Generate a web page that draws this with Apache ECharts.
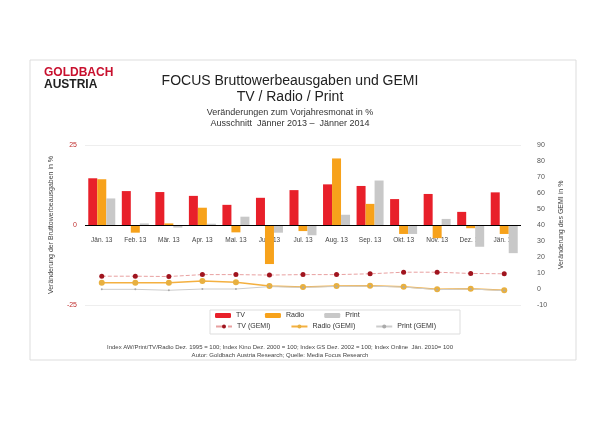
<!DOCTYPE html>
<html><head><meta charset="utf-8">
<script src="https://cdn.jsdelivr.net/npm/echarts@6/dist/echarts.min.js"></script>
<style>body{margin:0;background:#fff}#c{width:616px;height:434px}</style>
</head><body><div id="c"></div>
<script>
var months = ['Jän. 13','Feb. 13','Mär. 13','Apr. 13','Mai. 13','Jun. 13','Jul. 13','Aug. 13','Sep. 13','Okt. 13','Nov. 13','Dez. 13','Jän. 14'];
var tv = [14.6,10.6,10.3,9.1,6.3,8.5,10.9,12.7,12.2,8.1,9.7,4.1,10.2];
var radio = [14.3,-2.4,0.5,5.4,-2.3,-12.2,-1.9,20.8,6.6,-2.8,-4.1,-1.0,-2.8];
var print = [8.3,0.5,-0.8,0.4,2.6,-2.4,-3.2,3.2,13.9,-2.8,1.9,-6.8,-8.8];
var tvGemi = [8,8,7.8,9,9,8.7,9,9,9.5,10.5,10.5,9.7,9.5];
var radioGemi = [3.9,3.9,3.9,5,4.2,1.8,1.2,1.8,2,1.4,-0.2,0.2,-0.8];
var printGemi = [-0.2,-0.2,-0.8,0,0,1.5,1,1.6,1.8,1.2,-0.4,0,-1];

var chart = echarts.init(document.getElementById('c'));
var f = 'Liberation Sans, Arial, sans-serif';
var legText = {fontSize:7, color:'#333', width:58, overflow:'none'};
chart.setOption({
  animation: false,
  textStyle: {fontFamily: f},
  graphic: [
    {type:'rect', shape:{x:30,y:60,width:546,height:300}, style:{fill:'none', stroke:'#ddd', lineWidth:1}},
    {type:'rect', shape:{x:210,y:310,width:250,height:24}, style:{fill:'none', stroke:'#ddd', lineWidth:1}},
    {type:'text', left:44, top:67, style:{text:'GOLDBACH', fill:'#c8102e', font:'bold 12px '+f}},
    {type:'text', left:44, top:79, style:{text:'AUSTRIA', fill:'#222', font:'bold 12px '+f}}
  ],
  title: [
    {text:'FOCUS Bruttowerbeausgaben und GEMI\nTV / Radio / Print', left:285, textAlign:'center', top:68,
     textStyle:{fontSize:14, fontWeight:'normal', color:'#222', lineHeight:16}},
    {text:'Veränderungen zum Vorjahresmonat in %\nAusschnitt  Jänner 2013 –  Jänner 2014', left:285, textAlign:'center', top:102,
     textStyle:{fontSize:9, fontWeight:'normal', color:'#333', lineHeight:11}},
    {text:'Index AW/Print/TV/Radio Dez. 1995 = 100; Index Kino Dez. 2000 = 100; Index GS Dez. 2002 = 100; Index Online  Jän. 2010= 100\nAutor: Goldbach Austria Research; Quelle: Media Focus Research',
     left:275, textAlign:'center', top:338, textStyle:{fontSize:6, fontWeight:'normal', color:'#444', lineHeight:8}}
  ],
  legend: [
    {left:215, top:312, itemWidth:16, itemHeight:5, itemGap:20, padding:0,
     textStyle:legText, data:['TV','Radio','Print']},
    {left:215, top:323, itemWidth:16, itemHeight:5, itemGap:20, padding:0,
     textStyle:legText, data:['TV (GEMI)','Radio (GEMI)','Print (GEMI)']}
  ],
  grid: {left:85, right:95, top:145, bottom:129},
  xAxis: [
    {type:'category', data:months, position:'bottom', offset:-80,
     axisLine:{show:false}, axisTick:{show:false},
     axisLabel:{fontSize:6.5, color:'#444', interval:0, margin:12, hideOverlap:false, overflow:'none'}},
  ],
  yAxis: [
    {type:'value', min:-25, max:25, interval:25,
     name:'Veränderung der Bruttowerbeausgaben in %', nameLocation:'middle', nameGap:30,
     nameTextStyle:{fontSize:7, color:'#444'},
     axisLabel:{fontSize:7, color:'#c03030'},
     axisLine:{show:false}, axisTick:{show:false},
     splitLine:{lineStyle:{color:'#eee'}}},
    {type:'value', min:-10, max:90, interval:10,
     name:'Veränderung des GEMI in %', nameLocation:'middle', nameGap:32,
     nameTextStyle:{fontSize:7, color:'#444'},
     axisLabel:{fontSize:7, color:'#555', margin:16},
     axisLine:{show:false}, axisTick:{show:false}, splitLine:{show:false}}
  ],
  series: [
    {name:'TV', type:'bar', data:tv, barWidth:9, barGap:'0%', itemStyle:{color:'#e8202a'},
     markLine:{silent:true, symbol:'none', label:{show:false}, lineStyle:{color:'#000', type:'solid', width:1}, data:[{yAxis:0}]}},
    {name:'Radio', type:'bar', data:radio, barWidth:9, barGap:'0%', itemStyle:{color:'#f7a21b'}},
    {name:'Print', type:'bar', data:print, barWidth:9, barGap:'0%', itemStyle:{color:'#c8c8c8'}},
    {name:'TV (GEMI)', type:'line', yAxisIndex:1, data:tvGemi, symbol:'circle', symbolSize:5,
     itemStyle:{color:'#a0141e'}, lineStyle:{color:'#e8a0a0', width:1, type:'dashed'}},
    {name:'Radio (GEMI)', type:'line', yAxisIndex:1, data:radioGemi, symbol:'circle', symbolSize:6,
     itemStyle:{color:'#e8b040'}, lineStyle:{color:'#f4b040', width:1.5}},
    {name:'Print (GEMI)', type:'line', yAxisIndex:1, data:printGemi, symbol:'circle', symbolSize:2,
     itemStyle:{color:'#aaa'}, lineStyle:{color:'#ccc', width:1}}
  ]
});
</script></body></html>
